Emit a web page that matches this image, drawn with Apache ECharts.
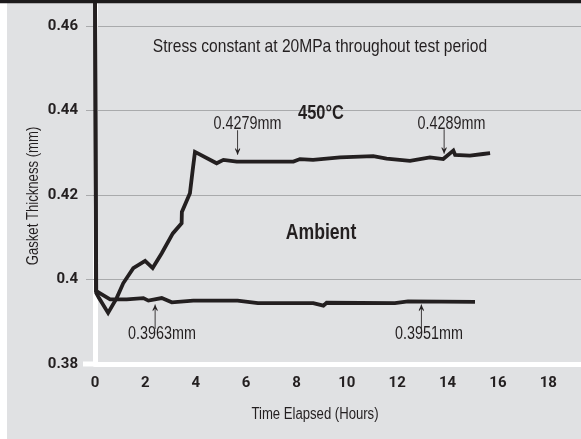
<!DOCTYPE html>
<html>
<head>
<meta charset="utf-8">
<script src="https://cdn.jsdelivr.net/npm/echarts@6/dist/echarts.min.js"></script>
<style>
    html, body { margin: 0; padding: 0; background: #fff; }
    #gasket { width: 581px; height: 439px; }
</style>
</head>
<body>
<div id="gasket"></div>
<script>
// 450C curve, hours and thickness (mm)
const hours450 = [0, 0.05, 0.16, 0.52, 0.86, 1.12, 1.52, 1.99, 2.29, 2.65, 3.09, 3.44, 3.45, 3.77, 3.88, 3.97,
    4.83, 5.10, 5.63, 7.88, 8.14, 8.66, 9.73, 11.05, 11.58, 12.51, 13.30, 13.83, 14.23, 14.30, 14.89, 15.41, 15.69];
const thick450 = [0.47, 0.3968, 0.3956, 0.3921, 0.3956, 0.3991, 0.4027, 0.4044, 0.4027, 0.4062, 0.4109, 0.4133, 0.4160, 0.4204, 0.4259, 0.4302,
    0.4275, 0.4283, 0.4279, 0.4279, 0.4285, 0.4283, 0.4289, 0.4292, 0.4286, 0.4281, 0.4289, 0.4285, 0.4305, 0.4295, 0.4293, 0.4297, 0.4299];
// ambient curve
const hoursAmb = [0, 0.04, 0.60, 1.26, 1.92, 2.12, 2.65, 3.05, 3.90, 5.66, 6.47, 8.67, 9.07, 9.20, 11.91, 12.43, 15.09];
const thickAmb = [0.47, 0.3973, 0.3953, 0.3953, 0.3956, 0.3950, 0.3956, 0.3946, 0.3950, 0.3950, 0.3944, 0.3944, 0.3938, 0.3945, 0.3944, 0.3948, 0.3947];

const xTicks = [0, 2, 4, 6, 8, 10, 12, 14, 16, 18];

const ink = "#231f20";
const sans = "'Liberation Sans', Arial, sans-serif";
const squeeze = 0.82; // the original uses a condensed face

function zip(xs, ys) {
    return xs.map((x, i) => [x, ys[i]]);
}

function note(text, x, y, font, rotation, sx) {
    return {
        type: "text",
        x: x,
        y: y,
        z: 50,
        scaleX: sx || squeeze,
        rotation: rotation || 0,
        style: {
            text: text,
            fill: ink,
            font: (font || "17.5px") + " " + sans,
            textAlign: "center",
            textVerticalAlign: "middle",
        },
    };
}

const chart = echarts.init(document.getElementById("gasket"));
chart.setOption({
    backgroundColor: "#e0e1e3",
    animation: false,
    grid: {
        left: 95,
        right: 0,
        top: 0,
        bottom: 75,
    },
    xAxis: {
        type: "value",
        min: 0,
        max: 19.3,
        interval: 2,
        axisLine: {
            onZero: false,
            lineStyle: { color: "#fff", width: 5 },
        },
        axisTick: { show: false },
        splitLine: { show: false },
        axisLabel: {
            color: ink,
            fontFamily: "Roboto",
            fontWeight: "bold",
            fontSize: 15,
            margin: 12,
            customValues: xTicks,
        },
    },
    yAxis: {
        type: "value",
        min: 0.38,
        max: 0.46615,
        interval: 0.02,
        offset: 3,
        axisLine: {
            show: true,
            lineStyle: { color: "#fff", width: 5 },
        },
        axisTick: {
            show: true,
            length: 9,
            lineStyle: { color: "#a9aaac" },
        },
        splitLine: {
            lineStyle: { color: "#a9aaac", width: 1 },
        },
        axisLabel: {
            color: ink,
            fontFamily: "Roboto",
            fontWeight: "bold",
            fontSize: 15,
            margin: 14,
            showMaxLabel: false,
        },
    },
    series: [
        {
            name: "450°C",
            type: "line",
            data: zip(hours450, thick450),
            showSymbol: false,
            lineStyle: { color: ink, width: 3.8, join: "miter", cap: "butt" },
        },
        {
            name: "Ambient",
            type: "line",
            data: zip(hoursAmb, thickAmb),
            showSymbol: false,
            lineStyle: { color: ink, width: 3.8, join: "miter", cap: "butt" },
        },
    ],
    graphic: [
        { type: "rect", z: 40, shape: { x: 0, y: 0, width: 7, height: 439 }, style: { fill: "#fff" } },
        { type: "rect", z: 40, shape: { x: 0, y: 0, width: 581, height: 3.3 }, style: { fill: "#1c1a1b" } },
        { type: "rect", z: 40, shape: { x: 83, y: 361.5, width: 12, height: 5 }, style: { fill: "#fff" } },
        note("Stress constant at 20MPa throughout test period", 320, 46.5, "19px"),
        note("450°C", 321, 113, "bold 20px"),
        note("Ambient", 321, 233, "bold 21.5px"),
        note("0.4279mm", 247.5, 124.5),
        note("↓", 237.5, 142, "42px", 0, 0.5),
        note("0.4289mm", 451.5, 124.5),
        note("↓", 444, 141.5, "42px", 0, 0.5),
        note("0.3963mm", 162, 334),
        note("↑", 155, 316, "42px", 0, 0.5),
        note("0.3951mm", 429, 334),
        note("↑", 421.3, 316, "42px", 0, 0.5),
        note("Time Elapsed (Hours)", 315, 415, "16px"),
        note("Gasket Thickness (mm)", 34, 196, "16px", Math.PI / 2),
    ],
});
</script>
</body>
</html>
